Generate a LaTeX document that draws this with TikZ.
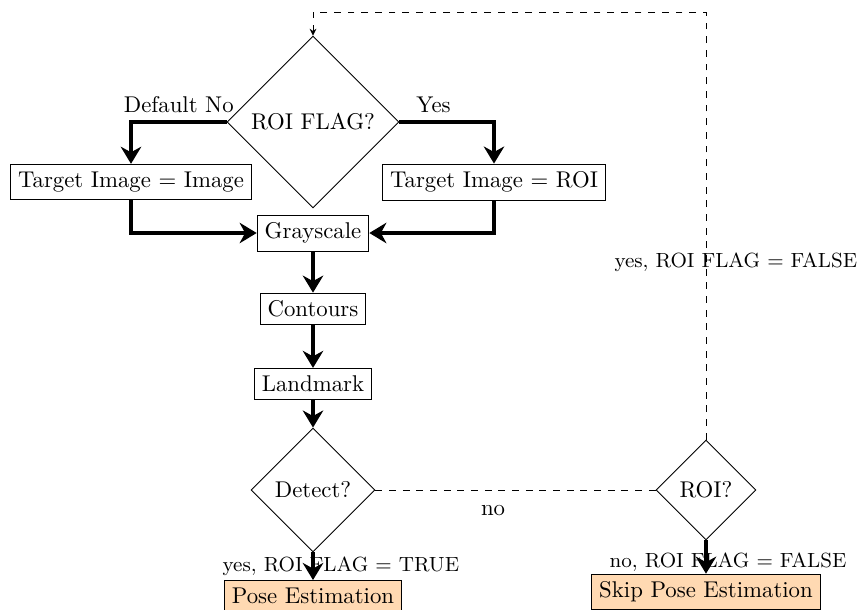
\documentclass[tikz,border=0pt]{standalone}
\usetikzlibrary{arrows.meta, shapes.geometric}

\begin{document}
\begin{tikzpicture}[x=0.01542cm, y=-0.01542cm,
    box/.style={draw, rectangle},
    decision/.style={draw, diamond, aspect=1, inner sep=0pt},
    result/.style={draw, rectangle, fill=orange!30},
    flag/.style={font=\small},
    flow/.style={-{Stealth[length=7.5pt, width=9pt]}, ultra thick},
    loopback/.style={dashed, -{Stealth[length=3pt, width=3pt]}}]
  \useasboundingbox (0,0) rectangle (860,610);

  % main column
  \node[decision, minimum width=2.652cm, minimum height=2.652cm] (roiflag) at (313,122) {ROI FLAG?};
  \node[box] (timage) at (131,182) {Target Image = Image};
  \node[box] (troi) at (494,182) {Target Image = ROI};
  \node[box] (gray) at (313,233) {Grayscale};
  \node[box] (cont) at (313,309) {Contours};
  \node[box] (land) at (313,384) {Landmark};
  \node[decision, minimum width=1.912cm, minimum height=1.912cm] (detect) at (313,490) {Detect?};
  \node[result] (pose) at (313,596) {Pose Estimation};

  % right branch
  \node[decision, minimum width=1.542cm, minimum height=1.542cm] (roi) at (706,490) {ROI?};
  \node[result] (skip) at (706,592) {Skip Pose Estimation};
  \coordinate (top) at (313,12);

  \draw[flow] (roiflag.west) -| node[pos=0.25, above] {Default No} (timage.north);
  \draw[flow] (roiflag.east) -| node[pos=0.18, above] {Yes} (troi.north);
  \draw[flow] (timage.south) |- (gray.west);
  \draw[flow] (troi.south) |- (gray.east);
  \draw[flow] (gray) -- (cont);
  \draw[flow] (cont) -- (land);
  \draw[flow] (land) -- (detect.north);
  \draw[flow] (detect.south) -- node[flag, xshift=0.43cm] {yes, ROI FLAG = TRUE} (pose.north);
  \draw[flow] (roi.south) -- node[flag, xshift=0.34cm, yshift=-0.08cm] {no, ROI FLAG = FALSE} (skip.north);

  \draw[dashed] (detect.east) -- node[pos=0.42, below=3pt] {no} (roi.west);
  \draw[loopback] (roi.north) |- node[flag, pos=0.207, xshift=0.46cm] {yes, ROI FLAG = FALSE} (top) -- (roiflag.north);
\end{tikzpicture}
\end{document}
